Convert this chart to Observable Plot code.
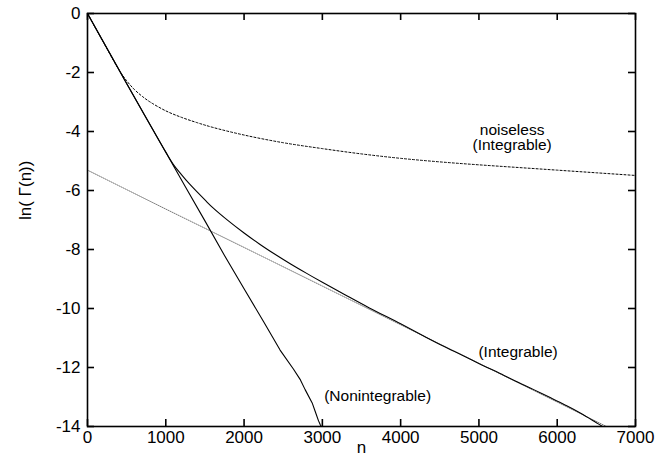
<!DOCTYPE html>
<html>
<head>
<meta charset="utf-8">
<script src="https://cdn.jsdelivr.net/npm/d3@7"></script>
<script src="https://cdn.jsdelivr.net/npm/@observablehq/plot@0.6"></script>
<style>
  html, body { margin: 0; padding: 0; background: #fff; }
  svg { display: block; }
</style>
</head>
<body>
<div id="chart"></div>
<script>
// ---- data ----
const nonintegN = [0, 250, 500, 750, 1000, 1250, 1500, 1750, 2000, 2250, 2460, 2630, 2720, 2780, 2870, 2910, 2950, 2975, 2995];
const nonintegV = [0, -1.19, -2.37, -3.54, -4.70, -5.87, -7.03, -8.2, -9.33, -10.45, -11.41, -12.05, -12.42, -12.75, -13.2, -13.5, -13.8, -13.95, -14.05];

const integN = [0, 250, 500, 750, 1000, 1100, 1200, 1300, 1400, 1500, 1600, 1800, 2000, 2200, 2400, 2600, 2800, 3000, 3300, 3600, 4000, 4300, 4550, 4800, 5050, 5270, 5500, 5700, 5910, 6100, 6300, 6500, 6580];
const integV = [0, -1.19, -2.37, -3.54, -4.70, -5.13, -5.46, -5.77, -6.05, -6.32, -6.58, -7.03, -7.44, -7.82, -8.17, -8.50, -8.81, -9.11, -9.55, -9.98, -10.52, -10.94, -11.28, -11.6, -11.93, -12.2, -12.5, -12.75, -13.02, -13.27, -13.55, -13.87, -14.0];

const fitN = [0, 1000, 2000, 3000, 4000, 5000, 6000, 6630];
const fitV = [-5.31, -6.63, -7.93, -9.24, -10.55, -11.86, -13.17, -14.0];

const noiselessN = [0, 200, 400, 500, 600, 700, 800, 1000, 1200, 1400, 1600, 2000, 2500, 3000, 3500, 4000, 4500, 5000, 5500, 6000, 6500, 7000];
const noiselessV = [0, -0.96, -1.9, -2.28, -2.58, -2.81, -3.0, -3.3, -3.52, -3.7, -3.86, -4.12, -4.38, -4.58, -4.76, -4.91, -5.03, -5.13, -5.22, -5.31, -5.4, -5.49];

const xTicks = [0, 1000, 2000, 3000, 4000, 5000, 6000, 7000];
const yTicks = [0, -2, -4, -6, -8, -10, -12, -14];

const labelTexts = ["noiseless\n(Integrable)", "(Integrable)", "(Nonintegrable)"];
const labelN = [5424, 5500, 3706];
const labelV = [-4.2, -11.48, -12.97];

const xTitle = "n";
const yTitle = "ln( Γ(n))";

// ---- build tables ----
const zip = (ns, vs) => ns.map((n, i) => ({n, v: vs[i]}));
const noninteg = zip(nonintegN, nonintegV);
const integ = zip(integN, integV);
const fit = zip(fitN, fitV);
const noiseless = zip(noiselessN, noiselessV);
const labels = labelTexts.map((t, i) => ({t, n: labelN[i], v: labelV[i]}));

const font = "'Liberation Sans', Arial, Helvetica, sans-serif";
const fmt = d => String(d);

const W = 669, H = 457, mL = 87, mR = 34, mT = 13, mB = 31;
const xDomain = [0, 7000], yDomain = [-14, 0];
const innerW = W - mL - mR, innerH = H - mT - mB;
const tickPx = 7;
// tick length converted into data units of each scale
const tickY = tickPx * (yDomain[1] - yDomain[0]) / innerH;
const tickX = tickPx * (xDomain[1] - xDomain[0]) / innerW;
const tickStyle = {stroke: "black", strokeWidth: 1.6};

const chart = Plot.plot({
  width: W,
  height: H,
  marginLeft: mL,
  marginRight: mR,
  marginTop: mT,
  marginBottom: mB,
  style: {fontFamily: font, fontSize: "17px", color: "black", background: "white"},
  x: {domain: xDomain},
  y: {domain: yDomain},
  marks: [
    Plot.line(fit, {x: "n", y: "v", stroke: "#777", strokeWidth: 1, strokeDasharray: "1,1.2", clip: true}),
    Plot.line(noiseless, {x: "n", y: "v", stroke: "black", strokeWidth: 1, strokeDasharray: "2,2", curve: "catmull-rom", clip: true}),
    Plot.line(integ, {x: "n", y: "v", stroke: "black", strokeWidth: 1.1, curve: "catmull-rom", clip: true}),
    Plot.line(noninteg, {x: "n", y: "v", stroke: "black", strokeWidth: 1.1, clip: true}),
    Plot.text(labels, {x: "n", y: "v", text: "t", fontSize: 15.5, lineHeight: 1.0, fill: "black"}),
    Plot.axisX(xTicks, {anchor: "bottom", tickSize: 0, tickPadding: 4, label: null, fontSize: 17, tickFormat: fmt}),
    Plot.axisY(yTicks, {anchor: "left", tickSize: 0, tickPadding: 7, label: null, fontSize: 17, tickFormat: fmt}),
    // inward ticks on all four sides
    Plot.ruleX(xTicks, {x: d => d, y1: yDomain[0], y2: yDomain[0] + tickY, ...tickStyle}),
    Plot.ruleX(xTicks, {x: d => d, y1: yDomain[1], y2: yDomain[1] - tickY, ...tickStyle}),
    Plot.ruleY(yTicks, {y: d => d, x1: xDomain[0], x2: xDomain[0] + tickX, ...tickStyle}),
    Plot.ruleY(yTicks, {y: d => d, x1: xDomain[1], x2: xDomain[1] - tickX, ...tickStyle}),
    Plot.frame({stroke: "black", strokeWidth: 1.6}),
    Plot.text([xTitle], {frameAnchor: "bottom", dy: 26, fontSize: 17, fill: "black"}),
    Plot.text([yTitle], {frameAnchor: "left", dx: -62, rotate: -90, fontSize: 17, fill: "black"})
  ]
});
document.getElementById("chart").appendChild(chart);
</script>
</body>
</html>
